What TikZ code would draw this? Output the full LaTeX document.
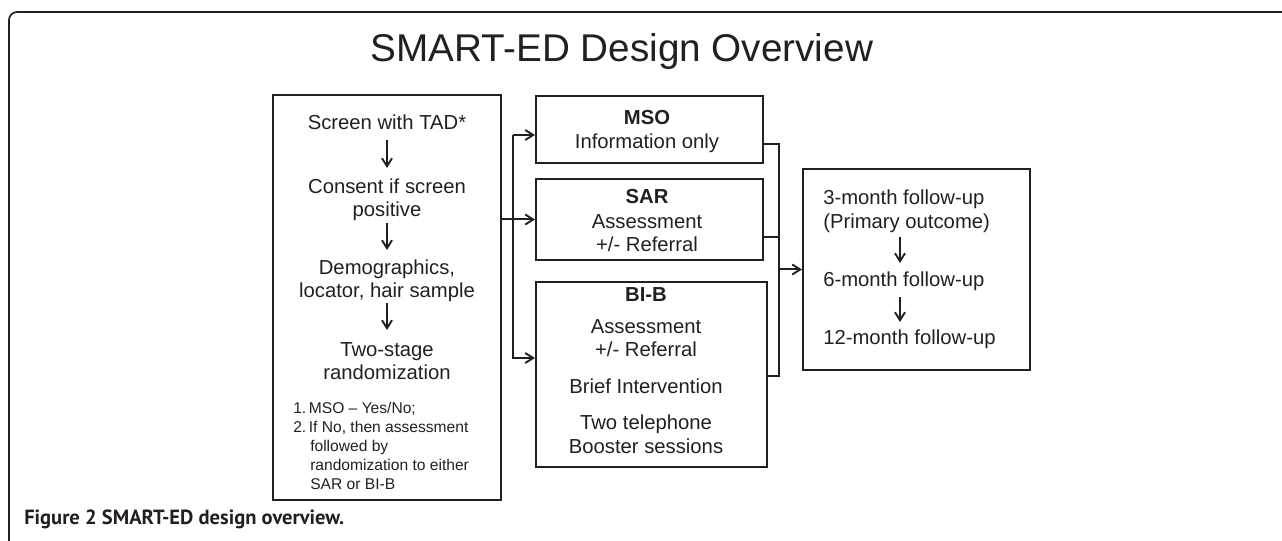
\documentclass[tikz,border=0pt]{standalone}
\usepackage{fontspec}
\setmainfont{Liberation Sans}
\newfontfamily\capfont{PT Sans}
\usetikzlibrary{arrows.meta,fit}
\definecolor{ink}{HTML}{231F20}
\begin{document}
\begin{tikzpicture}[x=0.75pt,y=-0.75pt,
  box/.style={draw=ink, line width=1.5pt, inner sep=0pt},
  lbl/.style={text=ink, inner sep=0pt, anchor=base, font=\fontsize{15.2}{17}\selectfont},
  lblw/.style={lbl, anchor=base west},
  lblb/.style={lbl, font=\fontsize{15.2}{17}\selectfont\bfseries},
  small/.style={text=ink, inner sep=0pt, anchor=base west, font=\fontsize{11.7}{14}\selectfont},
  wire/.style={draw=ink, line width=1.5pt},
  arr/.style={wire, -{Straight Barb[length=6pt,width=7.5pt,line width=1.4pt]}}]
\useasboundingbox (0,0) rectangle (1282,541);
% outer frame
\draw[ink, line width=1.3pt, rounded corners=6pt] (1290,12) -- (9,12) -- (9,550);
% title
\node[text=ink, inner sep=0pt, anchor=base, font=\fontsize{29}{31}\selectfont] (title) at (622,62) {SMART-ED Design Overview};
% boxes
\node[box, fit={(273,95) (501,500)}] (L) {};
\node[box, fit={(536,96) (763,163)}] (M) {};
\node[box, fit={(536,179) (763,260)}] (S) {};
\node[box, fit={(536,282) (767,467)}] (B) {};
\node[box, fit={(803,169) (1030,370)}] (F) {};
% left box text
\node[lbl] (t1) at (387,130) {Screen with TAD*};
\node[lbl] (t2a) at (387,194) {Consent if screen};
\node[lbl] (t2b) at (387,217) {positive};
\node[lbl] (t3a) at (387,275) {Demographics,};
\node[lbl] (t3b) at (387,298) {locator, hair sample};
\node[lbl] (t4a) at (387,357) {Two-stage};
\node[lbl] (t4b) at (387,380) {randomization};
\node[small] (s1) at (293,413.5) {1.\,MSO -- Yes/No;};
\node[small] (s2) at (293,432.5) {2.\,If No, then assessment};
\node[small] (s3) at (310,451.5) {followed by};
\node[small] (s4) at (310,470.5) {randomization to either};
\node[small] (s5) at (310,489.5) {SAR or BI-B};
\draw[arr] ([yshift=-7.5pt]t1.base) -- ([yshift=19.5pt]t2a.base);
\draw[arr] ([yshift=-4.5pt]t2b.base) -- ([yshift=18.75pt]t3a.base);
\draw[arr] ([yshift=-3.75pt]t3b.base) -- ([yshift=20.25pt]t4a.base);
% middle boxes text
\node[lblb] (m1) at (647,125) {MSO};
\node[lbl] (m2) at (647,149) {Information only};
\node[lblb] (r1) at (647,204) {SAR};
\node[lbl] (r2) at (647,229) {Assessment};
\node[lbl] (r3) at (647,252) {+/- Referral};
\node[lblb] (b1) at (646,302) {BI-B};
\node[lbl] (b2) at (646,334) {Assessment};
\node[lbl] (b3) at (646,357) {+/- Referral};
\node[lbl] (b4) at (646,394) {Brief Intervention};
\node[lbl] (b5) at (646,430) {Two telephone};
\node[lbl] (b6) at (646,454) {Booster sessions};
% follow-up text
\node[lblw] (f1) at (823,205) {3-month follow-up};
\node[lblw] (f2) at (823,229) {(Primary outcome)};
\node[lblw] (f3) at (823,287) {6-month follow-up};
\node[lblw] (f4) at (823,345) {12-month follow-up};
\coordinate (ax) at (900,0);
\draw[arr] ([yshift=-6pt]f2.base -| ax) -- ([yshift=18pt]f3.base -| ax);
\draw[arr] ([yshift=-7.5pt]f3.base -| ax) -- ([yshift=17.25pt]f4.base -| ax);
% branching connectors
\draw[arr] (L.east |- S.west) -- (S.west);
\coordinate (br1) at (513,135);
\coordinate (br2) at (513,358);
\draw[arr] (br1) -- (br1 -| M.west);
\draw[arr] (br1) -- (br2) -- (br2 -| B.west);
% merging connectors
\coordinate (mg1) at (779,144);
\coordinate (mg2) at (779,237);
\coordinate (mg3) at (779,376);
\draw[wire] (mg1 -| M.east) -- (mg1) -- (mg3) -- (mg3 -| B.east);
\draw[wire] (mg2 -| S.east) -- (mg2);
\draw[arr] (mg1 |- F.west) -- (F.west);
% caption
\node[text=ink, inner sep=0pt, anchor=base west, font=\capfont\bfseries\fontsize{15.4}{17}\selectfont] (cap) at (24,524) {Figure 2 SMART-ED design overview.};
\end{tikzpicture}
\end{document}
